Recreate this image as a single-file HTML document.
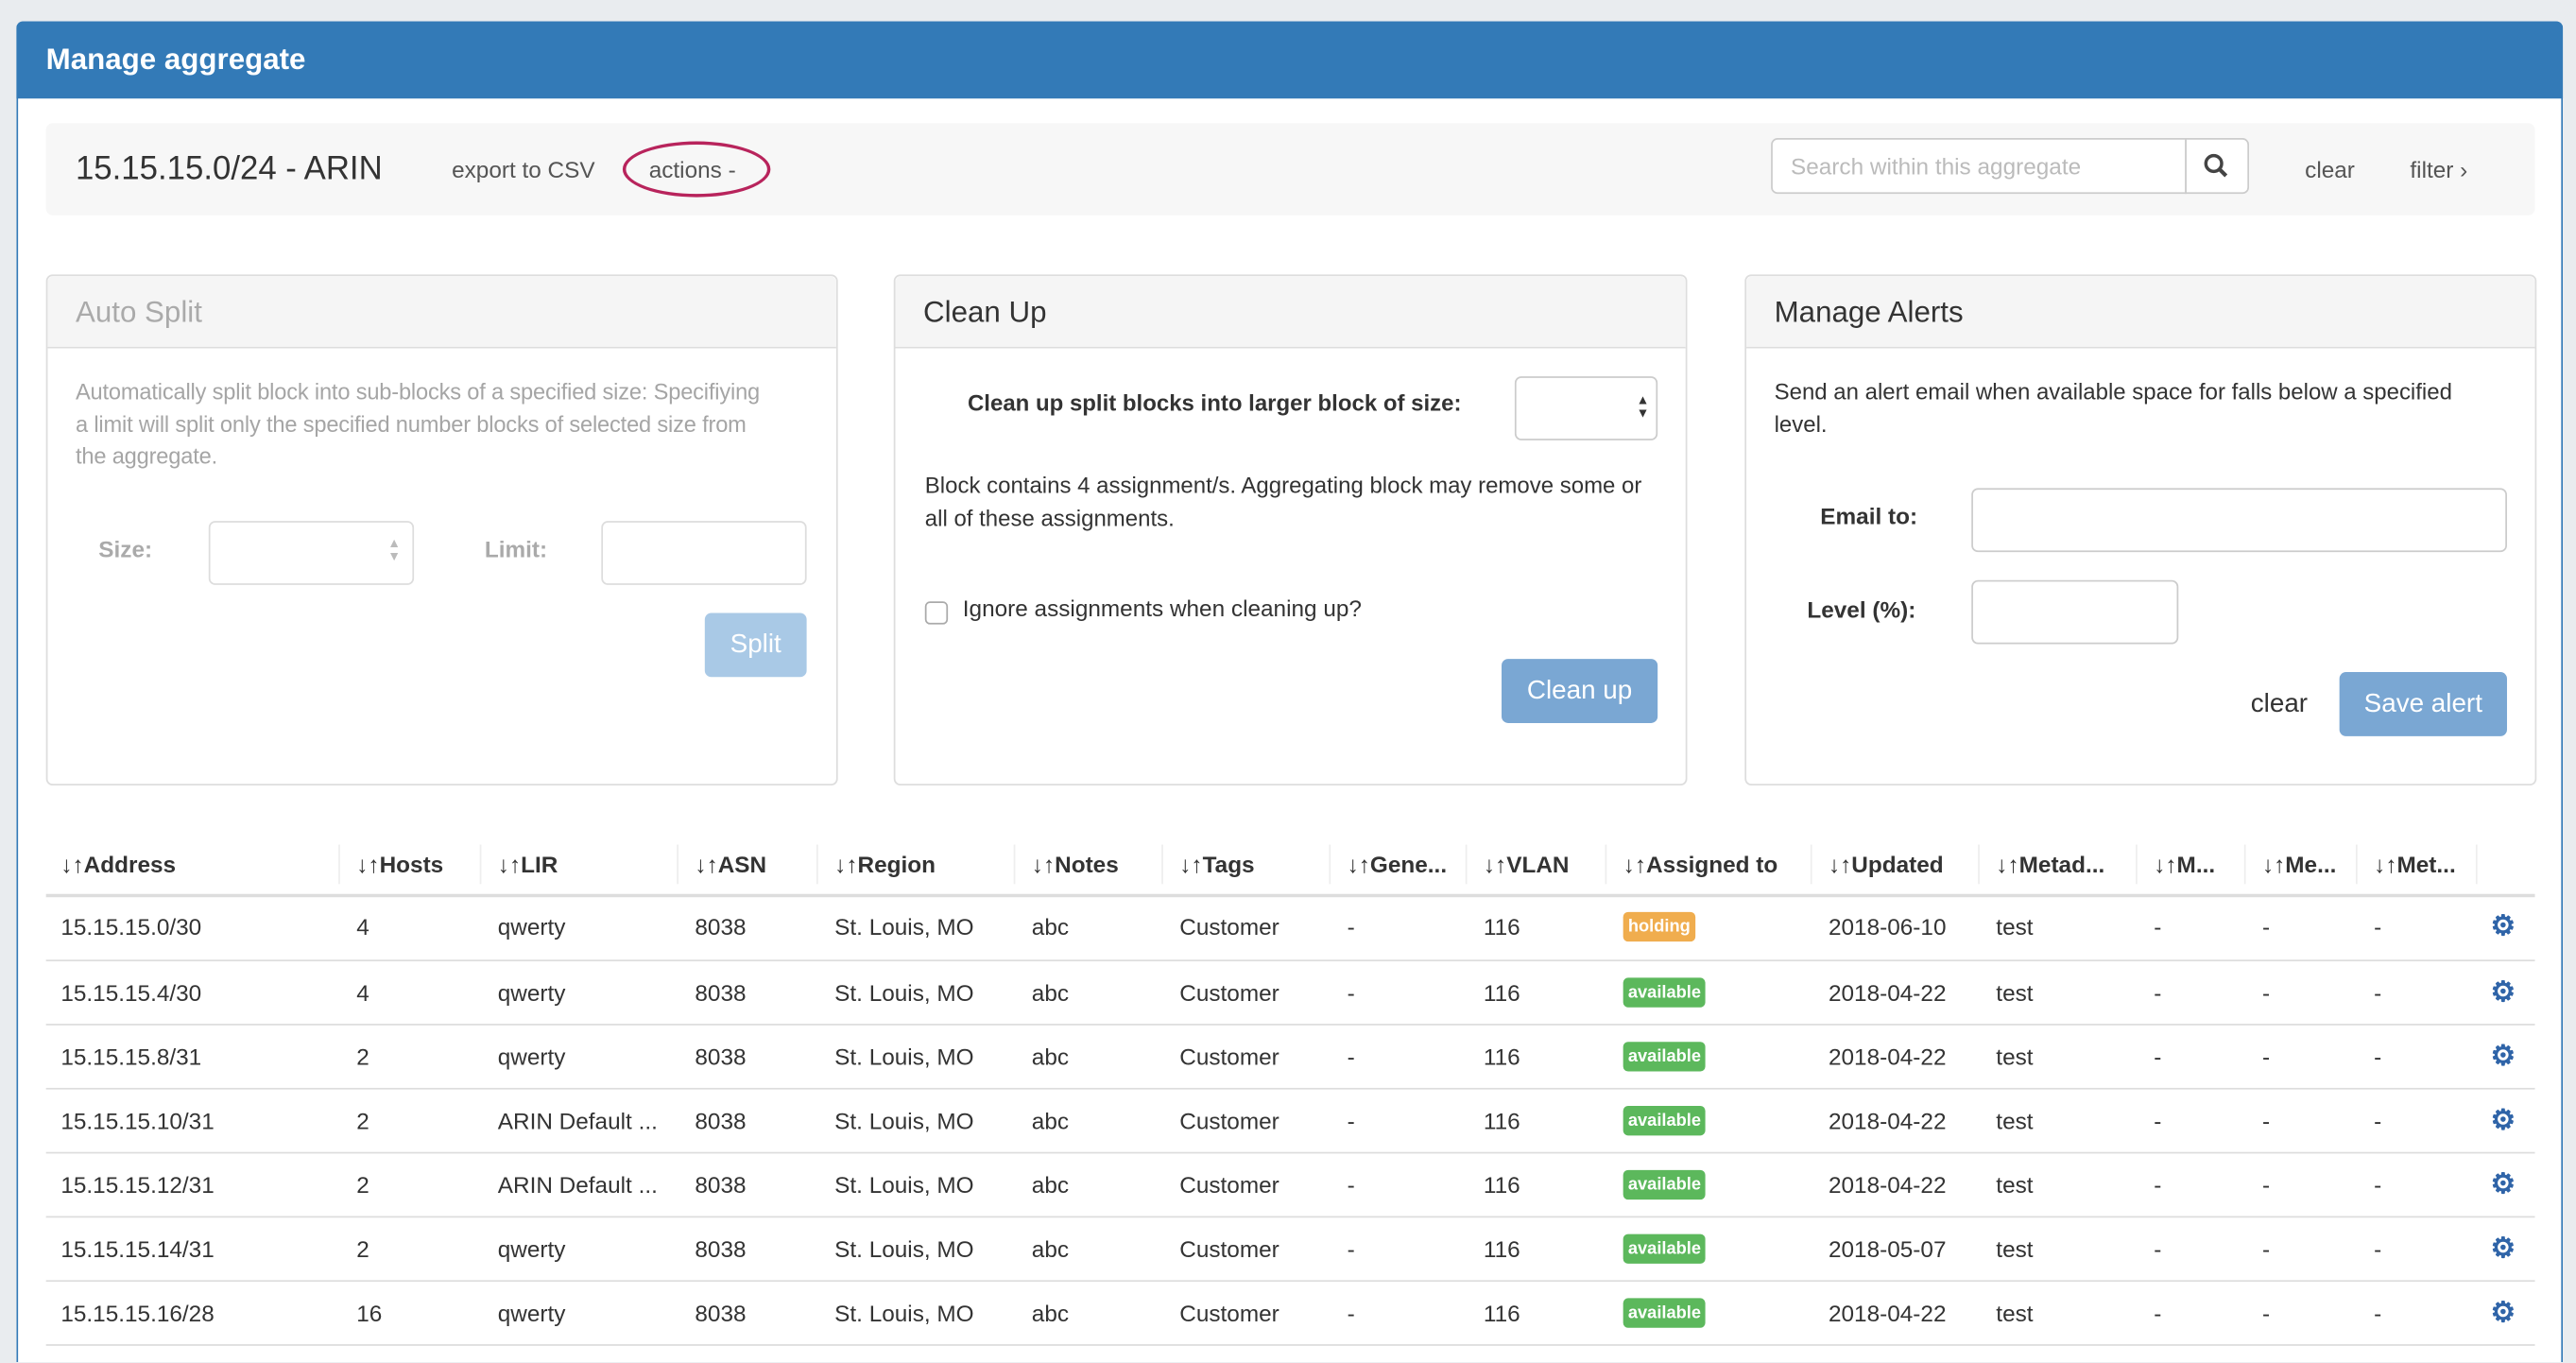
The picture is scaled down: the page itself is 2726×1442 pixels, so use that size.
<!DOCTYPE html>
<html><head><meta charset="utf-8"><style>
*{box-sizing:border-box;margin:0;padding:0}
html,body{width:2726px;height:1442px;overflow:hidden;background:#e9ecef}
#w{position:absolute;left:0;top:0;width:1568px;height:829px;overflow:hidden;transform:scale(1.73852);transform-origin:0 0;font-family:"Liberation Sans",sans-serif;font-size:14px;color:#333}
.a{position:absolute;white-space:nowrap}
.panel{position:absolute;border:1px solid #ddd;border-radius:4px;background:#fff}
.ph{position:absolute;left:0;top:0;right:0;height:44px;background:#f5f5f5;border-bottom:1px solid #ddd;border-radius:4px 4px 0 0;font-size:18px;padding:12px 17px;line-height:20px}
.inp{position:absolute;border:1px solid #ccc;border-radius:4px;background:#fff}
.btn{position:absolute;border-radius:4px;color:#fff;font-size:16px;text-align:center}
.lbl{position:absolute;font-weight:bold;text-align:right;white-space:nowrap}
.th{position:absolute;top:518px;font-weight:bold;white-space:nowrap}
.sep{position:absolute;top:514px;width:1px;height:24px;background:#eee}
.row{position:absolute;left:28px;width:1515px;height:39px;border-top:1px solid #ddd}
.c{position:absolute;top:11px;white-space:nowrap}
.bd{position:absolute;top:10px;height:18px;border-radius:3px;color:#fff;font-size:10.5px;font-weight:bold;line-height:18px;padding:0 3px}
.gear{position:absolute;left:1488px;top:10px;color:#2f64a8;font-size:17px;line-height:17px;font-weight:bold}
</style></head><body><div id="w">
<div class="a" style="left:10px;top:13px;width:1550px;height:816px;background:#fff;border:1px solid #337ab7;border-bottom:none;border-radius:4px 4px 0 0"></div>
<div class="a" style="left:10px;top:13px;width:1550px;height:47px;background:#337ab7;border-radius:4px 4px 0 0"></div>
<div class="a" style="left:28px;top:26px;color:#fff;font-size:18px;font-weight:bold;line-height:20px">Manage aggregate</div>

<div class="a" style="left:28px;top:75px;width:1515px;height:56px;background:#f7f7f7;border-radius:4px"></div>
<div class="a" style="left:46px;top:91px;font-size:20px;line-height:24px">15.15.15.0/24 - ARIN</div>
<div class="a" style="left:275px;top:95px;color:#555">export to CSV</div>
<div class="a" style="left:395px;top:95px;color:#555">actions -</div>
<div class="a" style="left:379px;top:86px;width:90px;height:34px;border:2.5px solid #b8245c;border-radius:50%"></div>
<div class="inp" style="left:1078px;top:84px;width:253px;height:34px;border-radius:4px 0 0 4px"></div>
<div class="a" style="left:1090px;top:93px;color:#bbb">Search within this aggregate</div>
<div class="inp" style="left:1330px;top:84px;width:39px;height:34px;border-radius:0 4px 4px 0"></div>
<svg class="a" style="left:1341px;top:93px" width="16" height="16"><circle cx="6.5" cy="6.5" r="4.8" fill="none" stroke="#444" stroke-width="2"/><line x1="10" y1="10" x2="14" y2="14" stroke="#444" stroke-width="2.4"/></svg>
<div class="a" style="left:1403px;top:95px;color:#555">clear</div>
<div class="a" style="left:1467px;top:95px;color:#555">filter ›</div>

<div class="panel" style="left:28px;top:167px;width:482px;height:311px"><div class="ph" style="color:#aaa">Auto Split</div></div>
<div class="a" style="left:46px;top:229px;color:#a5a5a5;line-height:19.5px;font-size:13.6px;letter-spacing:-0.1px">Automatically split block into sub-blocks of a specified size: Specifiying<br>a limit will split only the specified number blocks of selected size from<br>the aggregate.</div>
<div class="lbl" style="left:60px;top:326px;color:#aaa">Size:</div>
<div class="inp" style="left:127px;top:317px;width:125px;height:39px;border-color:#ddd"></div>
<div class="a" style="left:236px;top:327px;color:#bbb;font-size:8px;line-height:8px">▲<br>▼</div>
<div class="lbl" style="left:295px;top:326px;color:#aaa">Limit:</div>
<div class="inp" style="left:366px;top:317px;width:125px;height:39px;border-color:#ddd"></div>
<div class="btn" style="left:429px;top:373px;width:62px;height:39px;line-height:39px;background:#a9c9e6">Split</div>

<div class="panel" style="left:544px;top:167px;width:483px;height:311px"><div class="ph">Clean Up</div></div>
<div class="lbl" style="left:589px;top:238px;font-size:13.8px">Clean up split blocks into larger block of size:</div>
<div class="inp" style="left:922px;top:229px;width:87px;height:39px"></div>
<div class="a" style="left:996px;top:240px;color:#333;font-size:8px;line-height:8px">▲<br>▼</div>
<div class="a" style="left:563px;top:286px;line-height:19.5px;font-size:13.8px">Block contains 4 assignment/s. Aggregating block may remove some or<br>all of these assignments.</div>
<div class="a" style="left:563px;top:366px;width:14px;height:14px;border:1px solid #aaa;border-radius:3px"></div>
<div class="a" style="left:586px;top:362px">Ignore assignments when cleaning up?</div>
<div class="btn" style="left:914px;top:401px;width:95px;height:39px;line-height:39px;background:#7aa7d3">Clean up</div>

<div class="panel" style="left:1062px;top:167px;width:482px;height:311px"><div class="ph">Manage Alerts</div></div>
<div class="a" style="left:1080px;top:229px;line-height:19.5px;font-size:13.8px">Send an alert email when available space for falls below a specified<br>level.</div>
<div class="lbl" style="left:1108px;top:306px">Email to:</div>
<div class="inp" style="left:1200px;top:297px;width:326px;height:39px"></div>
<div class="lbl" style="left:1100px;top:363px">Level (%):</div>
<div class="inp" style="left:1200px;top:353px;width:126px;height:39px"></div>
<div class="a" style="left:1370px;top:420px;font-size:16px">clear</div>
<div class="btn" style="left:1424px;top:409px;width:102px;height:39px;line-height:39px;background:#7aa7d3">Save alert</div>

<div class="th" style="left:37px">↓↑Address</div><div class="sep" style="left:206px"></div>
<div class="th" style="left:217px">↓↑Hosts</div><div class="sep" style="left:292px"></div>
<div class="th" style="left:303px">↓↑LIR</div><div class="sep" style="left:412px"></div>
<div class="th" style="left:423px">↓↑ASN</div><div class="sep" style="left:497px"></div>
<div class="th" style="left:508px">↓↑Region</div><div class="sep" style="left:617px"></div>
<div class="th" style="left:628px">↓↑Notes</div><div class="sep" style="left:707px"></div>
<div class="th" style="left:718px">↓↑Tags</div><div class="sep" style="left:809px"></div>
<div class="th" style="left:820px">↓↑Gene...</div><div class="sep" style="left:892px"></div>
<div class="th" style="left:903px">↓↑VLAN</div><div class="sep" style="left:977px"></div>
<div class="th" style="left:988px">↓↑Assigned to</div><div class="sep" style="left:1102px"></div>
<div class="th" style="left:1113px">↓↑Updated</div><div class="sep" style="left:1204px"></div>
<div class="th" style="left:1215px">↓↑Metad...</div><div class="sep" style="left:1300px"></div>
<div class="th" style="left:1311px">↓↑M...</div><div class="sep" style="left:1366px"></div>
<div class="th" style="left:1377px">↓↑Me...</div><div class="sep" style="left:1434px"></div>
<div class="th" style="left:1445px">↓↑Met...</div><div class="sep" style="left:1507px"></div>
<div class="a" style="left:28px;top:544px;width:1515px;height:2px;background:#ddd"></div>

<div class="row" style="top:545px;border-top:none"><span class="c" style="left:9px">15.15.15.0/30</span><span class="c" style="left:189px">4</span><span class="c" style="left:275px">qwerty</span><span class="c" style="left:395px">8038</span><span class="c" style="left:480px">St. Louis, MO</span><span class="c" style="left:600px">abc</span><span class="c" style="left:690px">Customer</span><span class="c" style="left:792px">-</span><span class="c" style="left:875px">116</span><span class="bd" style="left:960px;background:#f0ad4e">holding</span><span class="c" style="left:1085px">2018-06-10</span><span class="c" style="left:1187px">test</span><span class="c" style="left:1283px">-</span><span class="c" style="left:1349px">-</span><span class="c" style="left:1417px">-</span><span class="gear">⚙</span></div>
<div class="row" style="top:584px"><span class="c" style="left:9px">15.15.15.4/30</span><span class="c" style="left:189px">4</span><span class="c" style="left:275px">qwerty</span><span class="c" style="left:395px">8038</span><span class="c" style="left:480px">St. Louis, MO</span><span class="c" style="left:600px">abc</span><span class="c" style="left:690px">Customer</span><span class="c" style="left:792px">-</span><span class="c" style="left:875px">116</span><span class="bd" style="left:960px;background:#5cb85c">available</span><span class="c" style="left:1085px">2018-04-22</span><span class="c" style="left:1187px">test</span><span class="c" style="left:1283px">-</span><span class="c" style="left:1349px">-</span><span class="c" style="left:1417px">-</span><span class="gear">⚙</span></div>
<div class="row" style="top:623px"><span class="c" style="left:9px">15.15.15.8/31</span><span class="c" style="left:189px">2</span><span class="c" style="left:275px">qwerty</span><span class="c" style="left:395px">8038</span><span class="c" style="left:480px">St. Louis, MO</span><span class="c" style="left:600px">abc</span><span class="c" style="left:690px">Customer</span><span class="c" style="left:792px">-</span><span class="c" style="left:875px">116</span><span class="bd" style="left:960px;background:#5cb85c">available</span><span class="c" style="left:1085px">2018-04-22</span><span class="c" style="left:1187px">test</span><span class="c" style="left:1283px">-</span><span class="c" style="left:1349px">-</span><span class="c" style="left:1417px">-</span><span class="gear">⚙</span></div>
<div class="row" style="top:662px"><span class="c" style="left:9px">15.15.15.10/31</span><span class="c" style="left:189px">2</span><span class="c" style="left:275px">ARIN Default ...</span><span class="c" style="left:395px">8038</span><span class="c" style="left:480px">St. Louis, MO</span><span class="c" style="left:600px">abc</span><span class="c" style="left:690px">Customer</span><span class="c" style="left:792px">-</span><span class="c" style="left:875px">116</span><span class="bd" style="left:960px;background:#5cb85c">available</span><span class="c" style="left:1085px">2018-04-22</span><span class="c" style="left:1187px">test</span><span class="c" style="left:1283px">-</span><span class="c" style="left:1349px">-</span><span class="c" style="left:1417px">-</span><span class="gear">⚙</span></div>
<div class="row" style="top:701px"><span class="c" style="left:9px">15.15.15.12/31</span><span class="c" style="left:189px">2</span><span class="c" style="left:275px">ARIN Default ...</span><span class="c" style="left:395px">8038</span><span class="c" style="left:480px">St. Louis, MO</span><span class="c" style="left:600px">abc</span><span class="c" style="left:690px">Customer</span><span class="c" style="left:792px">-</span><span class="c" style="left:875px">116</span><span class="bd" style="left:960px;background:#5cb85c">available</span><span class="c" style="left:1085px">2018-04-22</span><span class="c" style="left:1187px">test</span><span class="c" style="left:1283px">-</span><span class="c" style="left:1349px">-</span><span class="c" style="left:1417px">-</span><span class="gear">⚙</span></div>
<div class="row" style="top:740px"><span class="c" style="left:9px">15.15.15.14/31</span><span class="c" style="left:189px">2</span><span class="c" style="left:275px">qwerty</span><span class="c" style="left:395px">8038</span><span class="c" style="left:480px">St. Louis, MO</span><span class="c" style="left:600px">abc</span><span class="c" style="left:690px">Customer</span><span class="c" style="left:792px">-</span><span class="c" style="left:875px">116</span><span class="bd" style="left:960px;background:#5cb85c">available</span><span class="c" style="left:1085px">2018-05-07</span><span class="c" style="left:1187px">test</span><span class="c" style="left:1283px">-</span><span class="c" style="left:1349px">-</span><span class="c" style="left:1417px">-</span><span class="gear">⚙</span></div>
<div class="row" style="top:779px"><span class="c" style="left:9px">15.15.15.16/28</span><span class="c" style="left:189px">16</span><span class="c" style="left:275px">qwerty</span><span class="c" style="left:395px">8038</span><span class="c" style="left:480px">St. Louis, MO</span><span class="c" style="left:600px">abc</span><span class="c" style="left:690px">Customer</span><span class="c" style="left:792px">-</span><span class="c" style="left:875px">116</span><span class="bd" style="left:960px;background:#5cb85c">available</span><span class="c" style="left:1085px">2018-04-22</span><span class="c" style="left:1187px">test</span><span class="c" style="left:1283px">-</span><span class="c" style="left:1349px">-</span><span class="c" style="left:1417px">-</span><span class="gear">⚙</span></div>
<div class="a" style="left:28px;top:818px;width:1515px;height:1px;background:#ddd"></div>
</div></body></html>
